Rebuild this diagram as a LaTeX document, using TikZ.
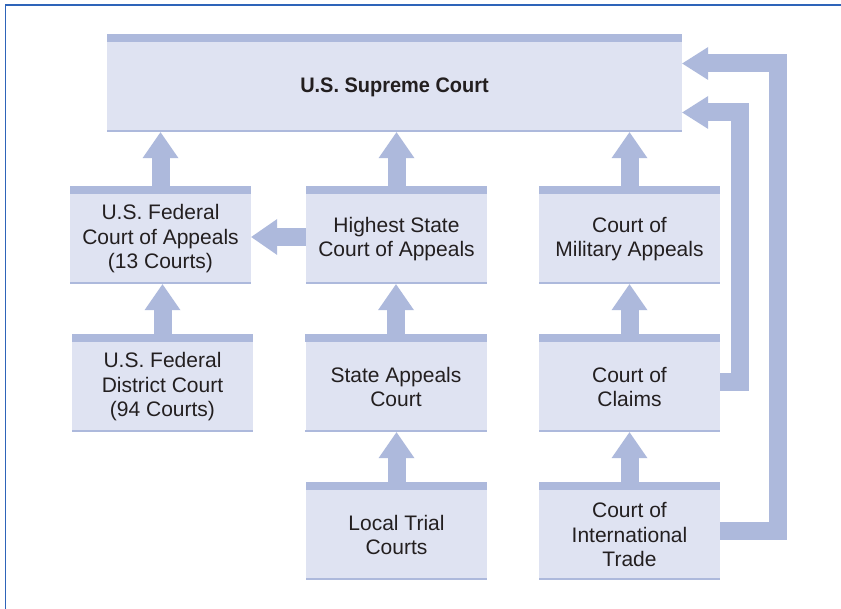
\documentclass[tikz,border=0pt]{standalone}
\usepackage{fontspec}
\setmainfont{Liberation Sans}
\newfontfamily\supfont{Liberation Sans}[FakeStretch=0.95]
\usetikzlibrary{arrows.meta}
\definecolor{bandc}{RGB}{173,185,220}
\definecolor{boxc}{RGB}{223,227,242}
\definecolor{framec}{RGB}{46,100,185}
\definecolor{txtc}{RGB}{35,31,32}
\begin{document}
\begin{tikzpicture}[x=1pt,y=-1pt,
  court/.style={rectangle, fill=boxc, minimum width=181pt, minimum height=90pt,
    inner sep=0pt, align=center, text=txtc, font=\fontsize{21}{24.5}\selectfont},
  fat/.style={draw=bandc, line width=18pt, -{Triangle[width=36pt,length=26pt,line width=0pt]}},
  link/.style={draw=bandc, line width=18pt, -{Triangle[width=33pt,length=26pt,line width=0pt]}}]
\useasboundingbox (0,0) rectangle (841,609);
\fill[white] (0,0) rectangle (841,609);
\draw[framec, line width=1.5pt] (5.5,609) -- (5.5,5) -- (841,5);

\node[court, minimum width=575pt] (sup) at (394.5,87) {\supfont\bfseries U.S. Supreme Court};
\node[court] (fed) at (160.5,239) {U.S. Federal\\Court of Appeals\\(13 Courts)};
\node[court] (hs) at (396.5,239) {Highest State\\Court of Appeals};
\node[court] (mil) at (629.5,239) {Court of\\Military Appeals};
\node[court] (dist) at (162.5,387) {U.S. Federal\\District Court\\(94 Courts)};
\node[court] (sa) at (396,387) {State Appeals\\Court};
\node[court] (cl) at (629.5,387) {Court of\\Claims};
\node[court] (lt) at (396.5,535) {Local Trial\\Courts};
\node[court] (tr) at (629.5,535) {Court of\\International\\Trade};

\foreach \n in {sup,fed,hs,mil,dist,sa,cl,lt,tr}{
  \fill[bandc] (\n.north west) rectangle ([yshift=8pt]\n.north east);
  \fill[bandc] (\n.south west) rectangle ([yshift=2.5pt]\n.south east);
}

\draw[fat] ([yshift=8pt]fed.north) -- (fed.north |- sup.south);
\draw[fat] ([yshift=8pt]hs.north) -- (hs.north |- sup.south);
\draw[fat] ([yshift=8pt]mil.north) -- (mil.north |- sup.south);
\draw[fat] ([yshift=8pt]dist.north) -- (dist.north |- fed.south);
\draw[fat] ([yshift=8pt]sa.north) -- (sa.north |- hs.south);
\draw[fat] ([yshift=8pt]cl.north) -- (cl.north |- mil.south);
\draw[fat] ([yshift=8pt]lt.north) -- (lt.north |- sa.south);
\draw[fat] ([yshift=8pt]tr.north) -- (tr.north |- cl.south);
\draw[fat] ([yshift=2pt]hs.west) -- ([yshift=2pt]fed.east);

\draw[link] ([yshift=4pt]tr.east) -| (778,63.5) -- (sup.east |- 0,63.5);
\draw[link] ([yshift=5pt]cl.east) -| (740,112.5) -- (sup.east |- 0,112.5);
\end{tikzpicture}
\end{document}
